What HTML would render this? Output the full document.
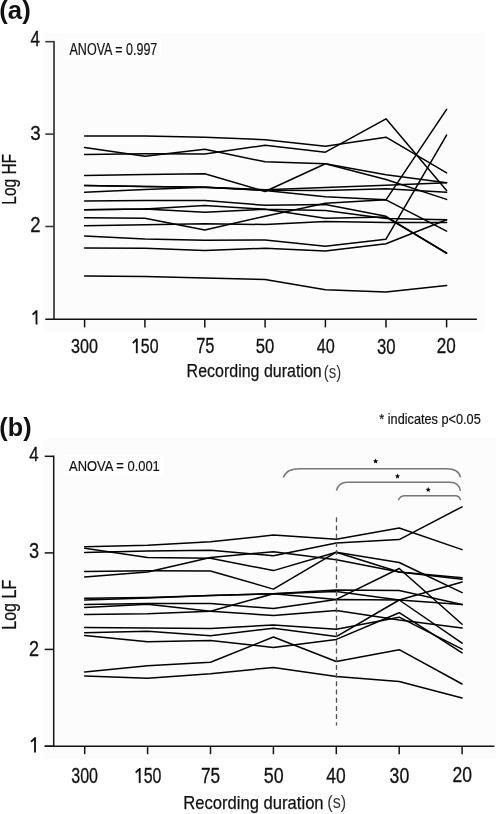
<!DOCTYPE html>
<html><head><meta charset="utf-8"><title>Figure</title>
<style>
html,body{margin:0;padding:0;background:#fff;}
body{width:496px;height:814px;overflow:hidden;}
svg{display:block;will-change:transform;}
text{font-family:'Liberation Sans', sans-serif;fill:#111;}
</style></head><body>
<svg width="496" height="814" viewBox="0 0 496 814">
<rect x="0" y="0" width="496" height="814" fill="#fff"/>
<rect x="43.5" y="33" width="441.5" height="299" fill="#fcfcfc"/>
<rect x="43.3" y="439" width="452.7" height="320" fill="#fcfcfc"/>
<rect x="64" y="39" width="97" height="20" fill="#fff"/>
<rect x="64" y="455" width="100" height="20" fill="#fff"/>
<g fill="none">
<line x1="54" y1="40.9" x2="54" y2="319.6" stroke="#3a3a3a" stroke-width="1.75"/>
<line x1="45.3" y1="41.7" x2="54" y2="41.7" stroke="#3a3a3a" stroke-width="1.6"/>
<line x1="45.3" y1="134.1" x2="54" y2="134.1" stroke="#3a3a3a" stroke-width="1.6"/>
<line x1="45.3" y1="226.5" x2="54" y2="226.5" stroke="#3a3a3a" stroke-width="1.6"/>
<line x1="45.3" y1="319.3" x2="476.9" y2="319.3" stroke="#111" stroke-width="1.45"/>
<line x1="84.6" y1="319.3" x2="84.6" y2="327.4" stroke="#111" stroke-width="1.5"/>
<line x1="144.9" y1="319.3" x2="144.9" y2="327.4" stroke="#111" stroke-width="1.5"/>
<line x1="204.8" y1="319.3" x2="204.8" y2="327.4" stroke="#111" stroke-width="1.5"/>
<line x1="265.1" y1="319.3" x2="265.1" y2="327.4" stroke="#111" stroke-width="1.5"/>
<line x1="325.4" y1="319.3" x2="325.4" y2="327.4" stroke="#111" stroke-width="1.5"/>
<line x1="386.0" y1="319.3" x2="386.0" y2="327.4" stroke="#111" stroke-width="1.5"/>
<line x1="446.6" y1="319.3" x2="446.6" y2="327.4" stroke="#111" stroke-width="1.5"/>
</g>
<g stroke="#141414" stroke-width="1.5" fill="none">
<line x1="53.7" y1="455.5" x2="53.7" y2="747.0"/>
<line x1="44.7" y1="746.2" x2="494.4" y2="746.2"/>
<line x1="44.7" y1="456.3" x2="53.7" y2="456.3"/>
<line x1="44.7" y1="552.9" x2="53.7" y2="552.9"/>
<line x1="44.7" y1="649.4" x2="53.7" y2="649.4"/>
<line x1="44.7" y1="746.2" x2="53.7" y2="746.2"/>
<line x1="84.7" y1="746.2" x2="84.7" y2="754.2"/>
<line x1="147.6" y1="746.2" x2="147.6" y2="754.2"/>
<line x1="210.5" y1="746.2" x2="210.5" y2="754.2"/>
<line x1="273.4" y1="746.2" x2="273.4" y2="754.2"/>
<line x1="336.3" y1="746.2" x2="336.3" y2="754.2"/>
<line x1="399.2" y1="746.2" x2="399.2" y2="754.2"/>
<line x1="462.1" y1="746.2" x2="462.1" y2="754.2"/>
</g>
<text x="-0.74" y="18.75" font-size="25.00" textLength="31.44" lengthAdjust="spacingAndGlyphs" font-weight="bold">(a)</text>
<text x="-0.70" y="435.57" font-size="25.17" textLength="32.23" lengthAdjust="spacingAndGlyphs" font-weight="bold">(b)</text>
<text x="69.53" y="54.69" font-size="15.88" textLength="87.80" lengthAdjust="spacingAndGlyphs" style="stroke:#111;stroke-width:0.2;">ANOVA = 0.997</text>
<text x="69.10" y="470.61" font-size="15.44" textLength="90.72" lengthAdjust="spacingAndGlyphs" style="stroke:#111;stroke-width:0.2;">ANOVA = 0.001</text>
<text x="379.26" y="424.34" font-size="14.03" textLength="101.47" lengthAdjust="spacingAndGlyphs" style="stroke:#111;stroke-width:0.2;">* indicates p&lt;0.05</text>
<text x="186.60" y="377.49" font-size="18.93" textLength="135.16" lengthAdjust="spacingAndGlyphs" style="stroke:#111;stroke-width:0.25;">Recording duration</text>
<text x="323.82" y="377.70" font-size="17.88" textLength="17.49" lengthAdjust="spacingAndGlyphs" style="fill:#333;">(s)</text>
<text x="183.27" y="808.68" font-size="19.24" textLength="140.34" lengthAdjust="spacingAndGlyphs" style="stroke:#111;stroke-width:0.25;">Recording duration</text>
<text x="327.30" y="808.23" font-size="18.76" textLength="18.93" lengthAdjust="spacingAndGlyphs" style="fill:#333;">(s)</text>
<text transform="translate(16.11,204.64) rotate(-90)" x="0" y="0" font-size="20.00" textLength="50.71" lengthAdjust="spacingAndGlyphs" style="stroke:#111;stroke-width:0.25;">Log HF</text>
<text transform="translate(16.43,629.81) rotate(-90)" x="0" y="0" font-size="20.00" textLength="50.02" lengthAdjust="spacingAndGlyphs" style="stroke:#111;stroke-width:0.25;">Log LF</text>
<text x="30.48" y="46.49" font-size="21.20" textLength="9.47" lengthAdjust="spacingAndGlyphs" style="stroke:#111;stroke-width:0.3;">4</text>
<text x="30.15" y="139.80" font-size="21.14" textLength="10.43" lengthAdjust="spacingAndGlyphs" style="stroke:#111;stroke-width:0.3;">3</text>
<text x="30.13" y="231.96" font-size="21.65" textLength="10.28" lengthAdjust="spacingAndGlyphs" style="stroke:#111;stroke-width:0.3;">2</text>
<text x="29.31" y="461.42" font-size="20.93" textLength="9.42" lengthAdjust="spacingAndGlyphs" style="stroke:#111;stroke-width:0.3;">4</text>
<text x="29.05" y="558.31" font-size="22.77" textLength="10.13" lengthAdjust="spacingAndGlyphs" style="stroke:#111;stroke-width:0.3;">3</text>
<text x="29.04" y="655.52" font-size="22.52" textLength="10.03" lengthAdjust="spacingAndGlyphs" style="stroke:#111;stroke-width:0.3;">2</text>
<text x="71.07" y="353.39" font-size="21.13" textLength="26.97" lengthAdjust="spacingAndGlyphs" style="stroke:#111;stroke-width:0.3;">300</text>
<text x="140.77" y="353.49" font-size="20.93" textLength="17.73" lengthAdjust="spacingAndGlyphs" style="stroke:#111;stroke-width:0.3;">50</text>
<text x="196.18" y="353.16" font-size="21.27" textLength="18.33" lengthAdjust="spacingAndGlyphs" style="stroke:#111;stroke-width:0.3;">75</text>
<text x="255.82" y="353.46" font-size="20.91" textLength="18.58" lengthAdjust="spacingAndGlyphs" style="stroke:#111;stroke-width:0.3;">50</text>
<text x="316.76" y="353.31" font-size="21.00" textLength="18.09" lengthAdjust="spacingAndGlyphs" style="stroke:#111;stroke-width:0.3;">40</text>
<text x="377.07" y="353.50" font-size="21.36" textLength="18.55" lengthAdjust="spacingAndGlyphs" style="stroke:#111;stroke-width:0.3;">30</text>
<text x="436.84" y="353.02" font-size="21.49" textLength="19.05" lengthAdjust="spacingAndGlyphs" style="stroke:#111;stroke-width:0.3;">20</text>
<text x="71.21" y="782.84" font-size="21.86" textLength="26.81" lengthAdjust="spacingAndGlyphs" style="stroke:#111;stroke-width:0.3;">300</text>
<text x="143.68" y="783.01" font-size="22.74" textLength="17.76" lengthAdjust="spacingAndGlyphs" style="stroke:#111;stroke-width:0.3;">50</text>
<text x="200.99" y="782.57" font-size="21.23" textLength="19.26" lengthAdjust="spacingAndGlyphs" style="stroke:#111;stroke-width:0.3;">75</text>
<text x="263.85" y="782.82" font-size="21.51" textLength="19.87" lengthAdjust="spacingAndGlyphs" style="stroke:#111;stroke-width:0.3;">50</text>
<text x="326.36" y="782.58" font-size="21.30" textLength="19.39" lengthAdjust="spacingAndGlyphs" style="stroke:#111;stroke-width:0.3;">40</text>
<text x="389.58" y="782.73" font-size="21.71" textLength="19.65" lengthAdjust="spacingAndGlyphs" style="stroke:#111;stroke-width:0.3;">30</text>
<text x="452.59" y="782.44" font-size="21.38" textLength="19.51" lengthAdjust="spacingAndGlyphs" style="stroke:#111;stroke-width:0.3;">20</text>
<g stroke="#111" stroke-width="1.85" fill="none" stroke-linecap="butt">
<path d="M36.5,310.2 L36.5,324.6 M36.6,310.8 L32.6,314.6"/>
<path d="M35.0,737.2 L35.0,752.6 M35.1,737.8 L31.0,741.9"/>
<path d="M136.8,338.6 L136.8,353.3 M136.9,339.2 L132.8,343.2"/>
<path d="M139.7,768.0 L139.7,783.0 M139.8,768.6 L135.7,772.6"/>
</g>
<g stroke="#000" stroke-width="1.5" fill="none" stroke-linejoin="round" stroke-linecap="round">
<polyline points="84.6,136.0 144.9,135.9 204.8,137.3 265.1,139.7 325.4,146.2 386.0,137.2 446.6,172.9"/>
<polyline points="84.6,147.4 144.9,156.3 204.8,149.2 265.1,161.8 325.4,163.8 386.0,174.7 446.6,182.7"/>
<polyline points="84.6,154.5 144.9,153.7 204.8,154.0 265.1,145.3 325.4,152.2 386.0,118.8 446.6,190.6"/>
<polyline points="84.6,175.4 144.9,174.5 204.8,173.7 265.1,191.5 325.4,163.8 386.0,179.5 446.6,199.4"/>
<polyline points="84.6,185.5 144.9,186.5 204.8,187.3 265.1,189.7 325.4,187.5 386.0,185.3 446.6,182.7"/>
<polyline points="84.6,185.5 144.9,186.5 204.8,187.3 265.1,190.2 325.4,190.4 386.0,188.8 446.6,192.3"/>
<polyline points="84.6,192.3 144.9,189.5 204.8,187.3 265.1,190.5 325.4,196.8 386.0,199.8 446.6,109.4"/>
<polyline points="84.6,200.9 144.9,200.6 204.8,200.6 265.1,205.3 325.4,204.5 386.0,216.3 446.6,253.3"/>
<polyline points="84.6,209.8 144.9,209.0 204.8,205.6 265.1,209.2 325.4,210.6 386.0,218.4 446.6,219.8"/>
<polyline points="84.6,209.8 144.9,209.0 204.8,212.2 265.1,209.2 325.4,218.3 386.0,217.0 446.6,253.0"/>
<polyline points="84.6,225.8 144.9,224.7 204.8,223.7 265.1,224.5 325.4,221.5 386.0,222.6 446.6,222.6"/>
<polyline points="84.6,217.7 144.9,218.2 204.8,230.1 265.1,216.2 325.4,203.3 386.0,199.8 446.6,231.1"/>
<polyline points="84.6,235.9 144.9,238.9 204.8,240.2 265.1,240.1 325.4,246.3 386.0,239.2 446.6,135.1"/>
<polyline points="84.6,248.0 144.9,248.2 204.8,250.4 265.1,248.3 325.4,251.1 386.0,243.7 446.6,219.8"/>
<polyline points="84.6,275.9 144.9,276.4 204.8,278.0 265.1,279.5 325.4,289.7 386.0,291.9 446.6,285.6"/>
<polyline points="84.7,546.8 147.6,545.2 210.5,541.8 273.4,535.1 336.3,539.2 399.2,528.0 462.1,549.6"/>
<polyline points="84.7,552.5 147.6,551.0 210.5,550.2 273.4,555.7 336.3,542.9 399.2,539.6 462.1,506.8"/>
<polyline points="84.7,548.3 147.6,557.6 210.5,558.3 273.4,570.6 336.3,552.2 399.2,562.5 462.1,592.6"/>
<polyline points="84.7,576.9 147.6,571.9 210.5,557.6 273.4,551.7 336.3,559.7 399.2,572.0 462.1,577.8"/>
<polyline points="84.7,571.6 147.6,570.7 210.5,571.0 273.4,589.1 336.3,552.2 399.2,572.0 462.1,579.2"/>
<polyline points="84.7,598.2 147.6,597.4 210.5,595.5 273.4,593.7 336.3,590.0 399.2,590.5 462.1,604.6"/>
<polyline points="84.7,600.1 147.6,597.9 210.5,595.5 273.4,593.7 336.3,591.6 399.2,600.0 462.1,582.0"/>
<polyline points="84.7,614.5 147.6,613.7 210.5,611.3 273.4,593.7 336.3,599.4 399.2,568.5 462.1,624.3"/>
<polyline points="84.7,604.4 147.6,603.6 210.5,603.6 273.4,608.5 336.3,599.4 399.2,600.0 462.1,604.6"/>
<polyline points="84.7,607.5 147.6,604.2 210.5,611.3 273.4,615.5 336.3,610.4 399.2,620.0 462.1,627.9"/>
<polyline points="84.7,627.6 147.6,628.1 210.5,628.6 273.4,625.0 336.3,629.3 399.2,617.2 462.1,649.1"/>
<polyline points="84.7,632.8 147.6,631.2 210.5,635.7 273.4,628.2 336.3,636.6 399.2,600.0 462.1,643.1"/>
<polyline points="84.7,635.5 147.6,641.7 210.5,640.5 273.4,647.4 336.3,639.4 399.2,612.7 462.1,652.9"/>
<polyline points="84.7,672.0 147.6,665.8 210.5,662.2 273.4,637.0 336.3,661.5 399.2,649.7 462.1,684.0"/>
<polyline points="84.7,675.9 147.6,678.2 210.5,673.7 273.4,667.4 336.3,676.4 399.2,681.5 462.1,697.9"/>
</g>
<line x1="336.5" y1="517.3" x2="336.5" y2="725.5" stroke="#555" stroke-width="1.3" stroke-dasharray="5,3.2"/>
<g stroke="#777" stroke-width="1.4" fill="none">
<path d="M283.3,477.6 C285.5,471 291,468.8 300,468.8 L446,468.8 C454,468.8 459.5,472 460.5,477.4"/>
<path d="M336.4,490.6 C338,485 341,482.2 347,482.2 L450,482.2 C456,482.2 459.5,485.5 460.5,491"/>
<path d="M398.4,500.2 C399.5,497 401,495.7 405,495.7 L455,495.7 C458.5,495.7 460,497.5 460.5,500.2"/>
</g>
<polygon points="375.60,458.60 376.31,460.32 378.17,460.47 376.76,461.68 377.19,463.48 375.60,462.51 374.01,463.48 374.44,461.68 373.03,460.47 374.89,460.32" fill="#000"/>
<polygon points="397.50,473.50 398.21,475.22 400.07,475.37 398.66,476.58 399.09,478.38 397.50,477.41 395.91,478.38 396.34,476.58 394.93,475.37 396.79,475.22" fill="#000"/>
<polygon points="428.20,487.10 428.91,488.82 430.77,488.97 429.36,490.18 429.79,491.98 428.20,491.01 426.61,491.98 427.04,490.18 425.63,488.97 427.49,488.82" fill="#000"/>
</svg></body></html>
